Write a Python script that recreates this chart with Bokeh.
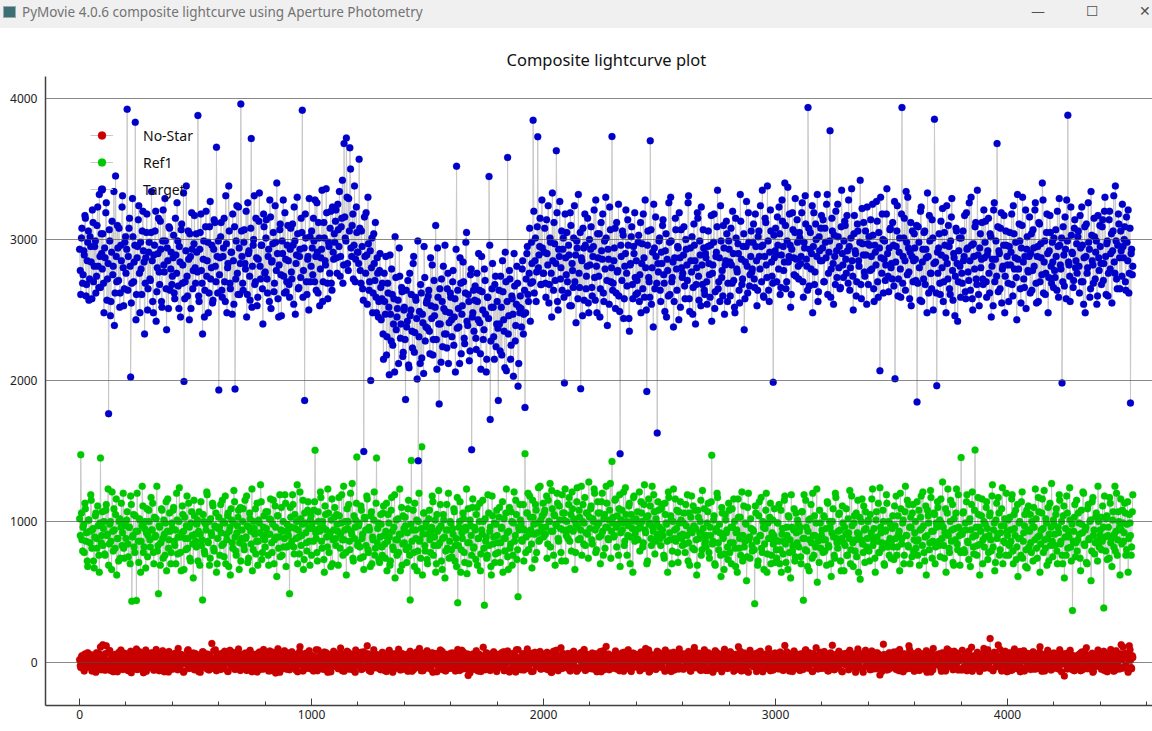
from bokeh.plotting import figure
from bokeh.models import (Range1d, Legend, LegendItem, SingleIntervalTicker,
                          ColumnDataSource, Div)
from bokeh.layouts import column
from bokeh.embed import file_html
from bokeh.resources import INLINE

WINDOW_TITLE = "PyMovie 4.0.6 composite lightcurve using Aperture Photometry"
PLOT_TITLE = "Composite lightcurve plot"
SERIES_NAMES = ["No-Star", "Ref1", "Target"]
SERIES_COLORS = ["#c80000", "#00c800", "#0000c8"]
FRAME_STEP = 5      # values read every 5th frame
OFFSET_B = 3        # second reading, frames 3, 8, 13, ...

# Target (blue), frames 0, 5, 10, ... 4540 (20 values per 100 frames)
target = [
    2930, 2610, 3080, 2750, 2890, 3150, 2680, 2980, 2570, 3020, 2840, 3210, 2700, 2950, 2620, 3100, 2810, 3320, 2660, 2900,
    3040, 2480, 2870, 3260, 2720, 1765, 2990, 2560, 3130, 2810, 2390, 3450, 2700, 2940, 3080, 2620, 2850, 3310, 2530, 2980,
    2760, 3924, 2880, 3150, 2024, 2690, 3020, 2840, 3831, 2610, 2950, 3240, 2480, 2790, 3060, 2920, 2330, 2870, 3180, 2650,
    2980, 2710, 3340, 2560, 2890, 3060, 2420, 2800, 3150, 2680, 2930, 2520, 3210, 2770, 2990, 2360, 2850, 3090, 2640, 2910,
    2740, 3030, 2580, 2890, 3260, 2670, 2950, 2450, 3110, 2820, 1993, 2700, 3380, 2600, 2860, 3040, 2510, 2930, 2780, 3170,
    2690, 2910, 3880, 2560, 3050, 2780, 2330, 2990, 2640, 3200, 2850, 2480, 3090, 2720, 2960, 2570, 3140, 2810, 3655, 2620,
    1932, 2870, 3120, 2590, 2940, 2700, 3310, 2480, 2830, 3060, 2650, 2910, 3180, 2540, 1939, 2990, 2760, 3230, 2610, 3961,
    2880, 2640, 3070, 2790, 2450, 3260, 2920, 2570, 3716, 2810, 3000, 2680, 3150, 2530, 2860, 3330, 2720, 2960, 2400, 3090,
    2770, 3140, 2620, 2930, 3280, 2510, 2850, 3050, 2690, 2980, 3400, 2580, 2820, 3110, 2460, 2900, 2740, 3190, 2630, 2960,
    2850, 2590, 3080, 2720, 2960, 3230, 2470, 2890, 3040, 2660, 2930, 3150, 3917, 2780, 1858, 3010, 2610, 2880, 3290, 2700,
    3060, 2750, 2990, 3280, 2640, 2910, 3120, 2530, 2870, 3350, 2700, 3010, 2820, 3190, 2580, 2950, 3080, 2690, 3230, 2860,
    2980, 3210, 2760, 3070, 3340, 2880, 3150, 2690, 3680, 3010, 3720, 2830, 3290, 3650, 2940, 3100, 2720, 3380, 2860, 3050,
    2910, 3570, 2780, 3060, 2650, 1496, 2880, 3190, 2540, 2970, 2700, 2000, 3010, 2620, 2830, 3120, 2480, 2760, 2560, 2900,
    2430, 2690, 2150, 2560, 2880, 2310, 2620, 2040, 2470, 2790, 2250, 2580, 3020, 2360, 2510, 2120, 2740, 2400, 2630, 2200,
    2520, 1865, 2380, 2710, 2090, 2460, 2610, 2230, 2880, 2340, 2570, 2010, 1430, 2490, 2680, 2160, 2410, 2950, 2280, 2550,
    2370, 2640, 2190, 2530, 2820, 2290, 2460, 3100, 2080, 2590, 1834, 2400, 2720, 2240, 2510, 2960, 2330, 2650, 2120, 2480,
    2590, 2310, 2780, 2450, 2060, 3520, 2640, 2380, 2870, 2190, 2530, 2700, 2260, 2980, 2420, 2610, 2140, 2750, 1509, 2480,
    2350, 2670, 2220, 2560, 2900, 2410, 2080, 2630, 2290, 2790, 2470, 2150, 2590, 3447, 1724, 2520, 2830, 2310, 2680, 2240,
    2560, 1858, 2400, 2740, 2180, 2630, 2350, 2910, 2070, 3582, 2460, 2720, 2250, 2580, 2030, 2670, 2390, 2810, 1960, 2520,
    2600, 2380, 2850, 2470, 1809, 2720, 2950, 2560, 3080, 2690, 2830, 3846, 2620, 3010, 2770, 3729, 2890, 3150, 2680, 2940,
    2760, 3080, 2590, 2900, 3240, 2680, 2980, 2450, 2850, 3120, 2710, 3630, 2560, 2930, 3270, 2800, 2640, 3010, 1983, 2870,
    3050, 2620, 2890, 3190, 2530, 2780, 3010, 2700, 2410, 2940, 3320, 2660, 1941, 2850, 3080, 2570, 2960, 2740, 3150, 2480,
    2820, 3090, 2600, 2950, 2730, 3280, 2480, 2870, 3040, 2650, 2920, 3180, 2560, 2790, 3010, 2390, 2860, 3230, 2700, 3730,
    2690, 2940, 2510, 3120, 2780, 2600, 1480, 2880, 3060, 2440, 2810, 3210, 2670, 2960, 2350, 2830, 3090, 2580, 2900, 2730,
    2850, 2620, 3030, 2750, 2480, 2970, 3180, 2590, 2800, 1922, 3060, 2700, 3700, 2540, 2910, 3250, 2650, 2880, 1627, 2770,
    3010, 2560, 2830, 3140, 2690, 2920, 2450, 2780, 3260, 2610, 2990, 2730, 2380, 2870, 3070, 2640, 2940, 3190, 2520, 2800,
    2760, 3090, 2580, 2930, 2710, 3310, 2490, 2850, 3020, 2660, 2960, 2400, 2800, 3150, 2570, 2890, 3230, 2680, 2940, 2610,
    2870, 2540, 3060, 2750, 2960, 2420, 2820, 3180, 2630, 2910, 3350, 2700, 2560, 2990, 2780, 3100, 2470, 2850, 3040, 2690,
    2930, 2600, 2820, 3200, 2710, 2480, 3010, 2770, 2900, 2550, 3130, 2680, 2950, 2360, 2840, 3270, 2620, 2980, 2750, 3060,
    2790, 3110, 2660, 2950, 2530, 3020, 2880, 3240, 2700, 2960, 2590, 3150, 2820, 3380, 2640, 2910, 3060, 2740, 1988, 2870,
    3080, 2700, 2960, 3230, 2610, 2890, 3130, 2780, 3400, 2650, 2990, 2840, 3180, 2520, 2930, 3070, 2750, 3290, 2860, 2980,
    2720, 3010, 2880, 3260, 2590, 2940, 3110, 2810, 3936, 2670, 3050, 2900, 2480, 3190, 2770, 3000, 3320, 2630, 2920, 3080,
    2850, 3140, 2700, 2980, 3250, 2610, 2910, 3772, 2790, 3060, 2540, 2880, 3200, 2730, 3020, 2950, 2660, 3350, 2820, 2990,
    3100, 2760, 2920, 3280, 2640, 3010, 2850, 2500, 3170, 2900, 2700, 3060, 2810, 3420, 2580, 2970, 3120, 2740, 2890, 3230,
    2680, 2960, 3140, 2790, 3030, 2560, 2910, 3270, 2700, 3050, 2069, 2870, 3180, 2620, 2990, 2820, 3360, 2740, 2940, 3080,
    2830, 3120, 2670, 2012, 2950, 3240, 2720, 3010, 2590, 3936, 2880, 3150, 2640, 2980, 3300, 2770, 2910, 2530, 3060, 2850,
    2940, 2710, 1848, 3090, 2800, 3200, 2560, 2930, 3050, 2680, 2870, 3330, 2620, 2990, 2760, 3140, 2500, 3853, 2840, 1963,
    2760, 3040, 2610, 2890, 3220, 2700, 2960, 2480, 2830, 3100, 2650, 2990, 3290, 2570, 2870, 2740, 3060, 2420, 2920, 2810,
    3010, 2690, 2850, 3170, 2580, 2930, 2770, 3260, 2640, 2960, 2500, 2880, 3090, 2720, 3350, 2610, 2940, 2800, 3120, 2680,
    2870, 3130, 2590, 2920, 2760, 3040, 2450, 2860, 3210, 2700, 2990, 3680, 2630, 2900, 3080, 2550, 2810, 3170, 2740, 2960,
    2820, 2560, 3050, 2910, 2680, 3240, 2790, 2980, 2430, 2860, 3110, 2650, 2940, 3300, 2720, 2880, 2510, 3020, 2770, 3160,
    2900, 2640, 3070, 2810, 3260, 2550, 2950, 3120, 2700, 2870, 3400, 2620, 2990, 2760, 3180, 2480, 2920, 3050, 2690, 2840,
    3010, 2730, 2880, 3200, 2590, 2960, 2790, 1983, 3090, 2670, 2930, 3280, 3882, 2820, 2560, 3030, 2900, 2710, 3140, 2850,
    2760, 3060, 2620, 2940, 3230, 2700, 2870, 2480, 3110, 2800, 2980, 2590, 3340, 2850, 2690, 3020, 2910, 2540, 3170, 2780,
    2950, 2680, 3140, 2830, 3300, 2610, 2990, 2760, 3200, 2900, 2550, 3060, 2840, 3380, 2720, 2960, 3110, 2650, 2920, 3250,
    2870, 3090, 2640, 2980, 3210, 2760, 1840, 2930, 2810,
]

# Target (blue), second reading at frames 3, 8, 13, ... 4538
target_b = [
    2780, 3010, 2690, 2920, 3170, 2600, 2850, 3060, 2720, 2950, 2580, 3120, 2810, 2990, 2740, 3230, 2660, 2880, 3040, 2790,
    2690, 2940, 3190, 2570, 2830, 3070, 2460, 2910, 2750, 3340, 2620, 2880, 3100, 2710, 2520, 2960, 3230, 2800, 2650, 3020,
    2930, 2640, 3080, 2810, 2550, 3290, 2700, 2960, 2430, 2870, 3140, 2760, 2980, 2610, 3200, 2840, 2690, 3050, 2500, 2910,
    2720, 3050, 2850, 2480, 2960, 3200, 2630, 2900, 2770, 3130, 2560, 2990, 2820, 3290, 2650, 2940, 2510, 3080, 2790, 2680,
    2870, 2620, 3150, 2760, 2990, 2510, 2840, 3070, 2690, 3330, 2580, 2920, 2740, 3060, 2430, 2880, 3190, 2650, 2970, 2800,
    3040, 2770, 2600, 2930, 3180, 2690, 2860, 2450, 3090, 2740, 2980, 2620, 3270, 2800, 2550, 2930, 3120, 2700, 2880, 2990,
    2750, 3020, 2640, 2880, 3150, 2560, 2970, 2800, 3380, 2690, 2910, 2470, 2850, 3090, 2720, 3240, 2610, 2940, 2830, 3060,
    2690, 2980, 2830, 3200, 2610, 2900, 2740, 3080, 2520, 2960, 3310, 2700, 2870, 2590, 3130, 2810, 2960, 2650, 3180, 2760,
    3010, 2720, 2880, 2560, 3160, 2840, 2970, 2630, 3240, 2780, 2900, 2450, 3070, 2750, 2990, 3280, 2620, 2860, 2700, 3100,
    2680, 2930, 2770, 3110, 2540, 2990, 2830, 3300, 2650, 2880, 2730, 3050, 2590, 2940, 3180, 2700, 2860, 2500, 3020, 2810,
    2940, 3150, 2700, 2880, 3260, 2620, 3010, 2790, 2930, 2560, 3120, 2850, 3360, 2690, 2980, 2760, 3200, 2640, 2910, 3040,
    3130, 2870, 3250, 2950, 2740, 3090, 3420, 2820, 3160, 2990, 3300, 2780, 3060, 3500, 2880, 3180, 2960, 2700, 3230, 2910,
    2830, 3080, 2690, 2950, 2570, 3160, 2760, 2890, 3300, 2640, 2920, 2800, 2480, 3040, 2710, 2590, 2870, 2450, 2780, 2660,
    2580, 2330, 2760, 2470, 2180, 2690, 2520, 2890, 2280, 2610, 2400, 2060, 2730, 2450, 2570, 2940, 2300, 2660, 2170, 2500,
    2290, 2640, 2420, 2110, 2760, 2500, 2350, 2830, 2200, 2590, 2440, 2990, 2310, 2120, 2620, 2470, 2050, 2730, 2380, 2570,
    2600, 2350, 2870, 2440, 2180, 2710, 2520, 2290, 2940, 2400, 2650, 2130, 2560, 2810, 2330, 2490, 2230, 2760, 2410, 2620,
    2430, 2700, 2250, 2580, 2930, 2370, 2510, 2120, 2690, 2470, 2840, 2300, 2620, 3050, 2390, 2560, 2210, 2790, 2450, 2640,
    2570, 2300, 2760, 2430, 2640, 2190, 2880, 2500, 2360, 2710, 2060, 2590, 2440, 2960, 2280, 2650, 2520, 2150, 2740, 2400,
    2370, 2640, 2210, 2520, 2850, 2430, 2090, 2700, 2560, 2330, 2780, 2150, 2600, 2470, 2900, 2280, 2540, 2690, 2120, 2480,
    2510, 2790, 2330, 2640, 2480, 2900, 2610, 2760, 2420, 2980, 2700, 3200, 2850, 2560, 3090, 2800, 2950, 2680, 3280, 2760,
    2910, 2690, 3140, 2820, 2550, 3010, 2760, 3330, 2640, 2970, 2830, 3190, 2500, 2880, 2720, 3060, 2930, 2590, 3180, 2750,
    2700, 2960, 2530, 3100, 2830, 2660, 3240, 2890, 2990, 2580, 2760, 3050, 2870, 2460, 2940, 3180, 2650, 2810, 2550, 3000,
    2930, 2660, 2880, 3210, 2570, 2810, 3040, 2740, 2450, 3120, 2860, 2620, 2990, 3300, 2710, 2930, 2540, 3070, 2800, 2640,
    2850, 3080, 2620, 2770, 3250, 2490, 2960, 2710, 3030, 2580, 2900, 2760, 3140, 2440, 2820, 3020, 2680, 2950, 3190, 2610,
    2710, 2980, 2560, 3120, 2830, 2650, 2870, 3280, 2500, 2960, 2730, 2590, 3070, 2800, 2380, 2940, 3160, 2690, 2830, 2990,
    2640, 2910, 3100, 2750, 2490, 3040, 2860, 2600, 2980, 3300, 2700, 2840, 2560, 3150, 2790, 2950, 2430, 2870, 3070, 2730,
    2890, 2670, 3000, 2820, 3260, 2580, 2940, 2770, 2470, 3110, 2850, 2680, 3190, 2740, 2990, 2530, 2820, 3070, 2640, 2900,
    2700, 2950, 2830, 2590, 3170, 2760, 2980, 2510, 2880, 3090, 2650, 2870, 3240, 2730, 2600, 2940, 2820, 3130, 2560, 2990,
    2840, 3080, 2690, 2900, 2520, 3150, 2790, 2970, 2640, 3320, 2860, 2720, 3040, 2580, 2950, 2810, 3190, 2670, 2880, 2770,
    2980, 2720, 3180, 2850, 2640, 3060, 2790, 2950, 3350, 2600, 2880, 3120, 2730, 2990, 2560, 3210, 2840, 2690, 3030, 2920,
    2890, 3160, 2790, 3040, 2660, 3280, 2950, 2840, 3100, 2700, 3370, 2880, 2960, 2610, 3190, 2870, 3050, 2740, 3140, 2810,
    3050, 2830, 3190, 2700, 2980, 3310, 2860, 2640, 3080, 2930, 2790, 3240, 2950, 2680, 3110, 2880, 2560, 3020, 2850, 3170,
    2940, 2700, 3080, 2870, 3320, 2760, 2990, 2590, 3150, 2830, 3030, 2680, 2920, 3250, 2800, 2650, 3090, 2900, 2730, 3130,
    2860, 3170, 2690, 2950, 2800, 3360, 2740, 3040, 2920, 2600, 3110, 2850, 2980, 2680, 3220, 2890, 2770, 3060, 2540, 2970,
    3020, 2780, 2880, 3250, 2650, 2960, 2820, 3130, 2590, 2940, 3300, 2760, 3000, 2860, 2710, 3180, 2900, 2630, 3070, 2800,
    2720, 2960, 3270, 2840, 3060, 2600, 2910, 2790, 3180, 2690, 3010, 2850, 3340, 2750, 2940, 2580, 3120, 2880, 2700, 3040,
    2860, 3100, 2690, 2980, 2570, 3230, 2840, 2720, 3060, 2930, 2480, 2880, 3170, 2760, 2650, 3010, 2830, 3280, 2620, 2910,
    2940, 2690, 3130, 2800, 2560, 3050, 2870, 3240, 2720, 2950, 2610, 3160, 2780, 2900, 2460, 3080, 2830, 2700, 3010, 2590,
    2760, 3060, 2880, 2630, 3190, 2940, 2710, 2850, 3300, 2580, 2970, 2790, 3120, 2680, 2890, 2530, 3040, 2860, 2720, 3210,
    2980, 2700, 2890, 3150, 2620, 3020, 2810, 2530, 3260, 2860, 2740, 3090, 2920, 2650, 3190, 2790, 2960, 2480, 3060, 2880,
    2690, 2950, 2820, 3180, 2600, 3040, 2870, 2730, 3320, 2790, 2990, 2550, 3100, 2840, 2660, 3210, 2930, 2780, 2880, 2620,
    3040, 2780, 2940, 3210, 2690, 2880, 2560, 3110, 2970, 2750, 3280, 2840, 2610, 3050, 2900, 2730, 3170, 2810, 2980, 2660,
    2780, 3070, 2640, 2950, 3290, 2820, 3010, 2700, 2890, 3160, 2580, 2990, 2840, 2740, 3230, 2910, 2660, 3080, 2800, 2970,
    3020, 2810, 3170, 2700, 2960, 2540, 3090, 2880, 2760, 3260, 2930, 2650, 3030, 2820, 3150, 2720, 2990, 2600, 2870, 3100,
    2830, 3090, 2710, 3200, 2880, 2970, 2600, 3140, 2790, 3040, 2920, 3310, 2760, 2990, 2650, 3180, 2870, 3060, 2740, 2950,
    3000, 2700, 3160, 2850, 2620, 3080, 2900, 2750,
]

# Ref1 (green), frames 0, 5, 10, ...
ref1 = [
    1020, 1474, 870, 960, 780, 1090, 920, 680, 1010, 850, 1150, 940, 720, 890, 1060, 810, 970, 640, 1450, 900,
    830, 1000, 760, 1120, 910, 690, 980, 860, 1210, 790, 940, 1050, 620, 880, 1000, 740, 1130, 920, 810, 970,
    880, 1070, 750, 960, 1180, 435, 900, 820, 1040, 440, 930, 710, 1010, 860, 1250, 780, 950, 670, 1090, 900,
    1000, 820, 940, 1130, 700, 890, 1020, 790, 487, 960, 850, 1080, 740, 910, 990, 650, 1160, 870, 930, 780,
    950, 1100, 830, 700, 1010, 890, 1240, 780, 920, 1050, 660, 880, 970, 810, 1130, 740, 990, 900, 600, 1040,
    860, 980, 720, 1070, 910, 830, 443, 1000, 770, 940, 1190, 850, 690, 1020, 900, 1110, 790, 960, 640, 880,
    1030, 760, 920, 1150, 840, 990, 700, 870, 1060, 930, 620, 1010, 810, 1220, 890, 760, 970, 1080, 850, 720,
    940, 1090, 800, 880, 1180, 710, 960, 1020, 840, 650, 1000, 910, 770, 1130, 860, 990, 1260, 730, 900, 1040,
    820, 950, 1070, 690, 910, 1010, 780, 1150, 870, 960, 610, 1040, 890, 750, 1100, 930, 820, 1190, 680, 980,
    900, 487, 1030, 860, 1120, 770, 950, 1000, 700, 890, 1210, 830, 980, 660, 1060, 920, 790, 1140, 860, 1010,
    760, 950, 1080, 1506, 880, 720, 1000, 930, 1170, 810, 960, 640, 1050, 890, 1230, 780, 920, 1010, 700, 940,
    1100, 830, 980, 690, 1040, 910, 1190, 760, 870, 1000, 620, 950, 1120, 800, 930, 1270, 720, 880, 1010, 1457,
    850, 990, 740, 1080, 910, 660, 1020, 830, 1160, 780, 940, 1040, 700, 870, 1210, 810, 1450, 950, 730, 890,
    980, 760, 1110, 840, 930, 650, 1050, 890, 720, 1170, 820, 960, 600, 1010, 870, 780, 1230, 910, 690, 1040,
    850, 970, 710, 1090, 820, 443, 1433, 940, 780, 1130, 880, 650, 1000, 860, 740, 1530, 910, 1060, 790, 960,
    700, 1020, 870, 930, 1180, 760, 890, 640, 1050, 830, 950, 1120, 720, 880, 1010, 600, 940, 810, 1200, 860,
    990, 750, 910, 1070, 830, 680, 423, 960, 1140, 800, 880, 1020, 710, 940, 630, 1090, 850, 970, 760, 1160,
    820, 940, 1050, 690, 880, 1130, 770, 910, 1000, 406, 860, 740, 1190, 830, 960, 620, 1040, 890, 710, 980,
    900, 780, 1100, 850, 960, 640, 1020, 880, 1230, 750, 930, 810, 1070, 690, 990, 860, 1150, 730, 467, 940,
    1010, 870, 950, 720, 1481, 890, 1060, 800, 1180, 940, 670, 1030, 910, 1120, 780, 990, 860, 1250, 930, 1040,
    890, 1080, 960, 740, 1150, 1000, 820, 1220, 930, 1050, 690, 970, 1130, 860, 1010, 780, 1190, 940, 1060, 720,
    1000, 880, 1170, 950, 790, 1090, 1020, 660, 980, 1240, 870, 1030, 940, 760, 1120, 990, 830, 1060, 910, 1280,
    950, 1110, 840, 1000, 1200, 780, 970, 1060, 890, 700, 1140, 930, 1020, 810, 1250, 960, 870, 1080, 740, 1426,
    1030, 900, 1160, 820, 980, 1090, 680, 1010, 940, 1210, 860, 1050, 760, 970, 1130, 890, 1000, 640, 1180, 920,
    880, 1070, 950, 790, 1140, 1000, 850, 1260, 920, 700, 1040, 980, 1110, 830, 960, 1190, 770, 1020, 900, 1080,
    960, 830, 1120, 900, 740, 1050, 980, 640, 1170, 870, 1010, 790, 1230, 940, 860, 1080, 710, 990, 1140, 880,
    910, 1060, 780, 970, 1190, 850, 690, 1030, 920, 1110, 800, 950, 620, 1080, 880, 1000, 760, 1220, 900, 840,
    820, 990, 1130, 740, 900, 1470, 860, 1040, 690, 950, 1170, 800, 920, 610, 1060, 880, 770, 1010, 940, 730,
    1080, 850, 700, 960, 1160, 810, 920, 640, 1030, 880, 760, 1210, 900, 820, 990, 580, 1100, 870, 740, 950,
    790, 930, 417, 1060, 860, 720, 1140, 900, 810, 1000, 660, 950, 1200, 770, 880, 1030, 700, 920, 840, 1090,
    870, 740, 990, 1120, 800, 640, 950, 860, 1180, 710, 900, 1040, 780, 600, 960, 830, 1090, 750, 920, 1010,
    820, 960, 700, 1070, 441, 880, 1150, 790, 930, 650, 1020, 850, 1200, 760, 900, 990, 570, 870, 1080, 810,
    940, 780, 1030, 870, 690, 1130, 820, 960, 610, 1000, 890, 740, 1170, 850, 930, 1060, 720, 880, 990, 650,
    830, 1090, 760, 920, 1220, 800, 970, 680, 1040, 870, 750, 1150, 910, 590, 1000, 840, 1110, 710, 950, 880,
    1010, 720, 890, 1160, 830, 950, 640, 1070, 860, 780, 1240, 920, 810, 1000, 690, 940, 1130, 850, 760, 980,
    860, 1040, 730, 970, 1180, 820, 910, 650, 1090, 880, 1010, 760, 1250, 900, 830, 1120, 700, 960, 1060, 790,
    920, 810, 1140, 870, 690, 1030, 950, 1210, 780, 890, 620, 1080, 990, 850, 1170, 740, 930, 1050, 820, 960,
    1100, 860, 750, 990, 1280, 830, 920, 640, 1060, 900, 780, 1150, 940, 710, 1020, 870, 1230, 800, 960, 690,
    1453, 910, 1070, 780, 940, 1190, 850, 1000, 680, 1120, 890, 770, 1507, 960, 830, 1050, 620, 930, 1160, 870,
    820, 980, 1140, 730, 900, 1060, 790, 1260, 940, 650, 1010, 880, 1170, 760, 920, 1090, 700, 970, 850, 1200,
    900, 760, 1030, 860, 1190, 700, 950, 1080, 820, 610, 990, 880, 1140, 740, 920, 1050, 800, 670, 1110, 930,
    850, 1000, 720, 960, 1230, 810, 890, 1070, 640, 940, 1160, 780, 870, 1020, 690, 1100, 910, 830, 1270, 750,
    980, 830, 1090, 700, 920, 1150, 860, 760, 1040, 600, 950, 1180, 810, 890, 1010, 720, 368, 930, 1120, 850,
    790, 1060, 910, 650, 980, 1210, 840, 940, 710, 1090, 870, 1000, 580, 1140, 900, 770, 1030, 860, 1250, 820,
    940, 800, 1110, 387, 890, 1020, 730, 960, 1170, 850, 680, 1070, 910, 790, 1200, 870, 1000, 620, 940, 1080,
    860, 1130, 760, 980, 640, 1050, 900, 820, 1190,
]

# Ref1 (green), second reading at frames 3, 8, 13, ...
ref1_b = [
    900, 1060, 790, 980, 1130, 860, 720, 1010, 930, 1190, 810, 950, 670, 1040, 880, 1110, 760, 990, 850, 1070,
    950, 770, 1080, 900, 1230, 840, 1000, 660, 930, 1090, 810, 1160, 880, 720, 1020, 960, 830, 1200, 740, 1000,
    1010, 840, 960, 700, 1120, 890, 1050, 780, 930, 1200, 860, 1020, 640, 970, 1110, 820, 1000, 920, 750, 1080,
    870, 1170, 940, 780, 1030, 900, 1250, 830, 970, 690, 1090, 880, 1010, 760, 1140, 930, 810, 1060, 700, 990,
    1080, 860, 940, 1200, 770, 1000, 890, 650, 1110, 930, 1030, 800, 1180, 880, 960, 720, 1070, 840, 1150, 910,
    820, 1010, 930, 690, 1140, 870, 1050, 790, 980, 1210, 860, 1000, 740, 920, 1130, 810, 970, 1060, 700, 950,
    960, 1120, 830, 1000, 750, 1180, 910, 1040, 680, 960, 1090, 850, 990, 1140, 790, 920, 1030, 660, 1100, 880,
    1000, 830, 1150, 890, 970, 740, 1060, 930, 1230, 800, 950, 1090, 860, 690, 1010, 920, 1140, 780, 960, 870,
    1070, 910, 760, 1020, 1160, 850, 980, 700, 1110, 890, 1040, 810, 1190, 940, 760, 1000, 880, 1130, 820, 940,
    830, 1100, 960, 1190, 820, 1050, 880, 1260, 940, 770, 1020, 900, 1150, 730, 990, 850, 1080, 950, 690, 1040,
    990, 860, 1140, 920, 780, 1070, 950, 1210, 860, 1000, 730, 1110, 940, 820, 1060, 900, 680, 1160, 870, 1030,
    880, 1050, 930, 1170, 810, 990, 870, 1250, 940, 780, 1090, 1000, 860, 1200, 910, 740, 1040, 960, 1130, 830,
    970, 820, 1110, 880, 750, 1030, 940, 1180, 800, 960, 680, 1070, 890, 1010, 760, 1130, 850, 990, 710, 1050,
    820, 1060, 900, 740, 1130, 860, 990, 690, 1080, 930, 800, 1190, 870, 760, 1020, 910, 650, 1100, 840, 950,
    1030, 800, 920, 1150, 760, 980, 860, 1080, 680, 940, 1010, 790, 1200, 870, 950, 620, 1060, 830, 990, 730,
    910, 1080, 780, 960, 1140, 830, 1010, 700, 930, 1220, 850, 970, 660, 1050, 890, 790, 1120, 940, 740, 1000,
    800, 950, 1090, 720, 880, 1170, 830, 1000, 640, 920, 1060, 780, 960, 1230, 850, 700, 1010, 900, 1100, 810,
    960, 730, 1100, 880, 1000, 650, 940, 1150, 810, 1020, 890, 760, 1060, 930, 680, 1180, 840, 990, 770, 1080,
    850, 1030, 710, 950, 1140, 880, 790, 1060, 920, 660, 1100, 840, 1000, 760, 1210, 900, 1050, 800, 960, 1120,
    990, 860, 1120, 940, 780, 1060, 1200, 910, 1030, 840, 1150, 980, 730, 1080, 920, 1240, 870, 1010, 960, 1130,
    1060, 910, 1180, 840, 1000, 1270, 930, 1090, 760, 1040, 980, 1200, 880, 1110, 950, 720, 1060, 1010, 1230, 900,
    940, 1120, 860, 1050, 1210, 930, 1010, 780, 1140, 960, 1080, 880, 1250, 1000, 840, 1170, 920, 1060, 740, 1030,
    1090, 870, 1020, 1230, 940, 800, 1140, 990, 1060, 900, 1200, 760, 1050, 960, 1130, 880, 1010, 1270, 930, 990,
    890, 1150, 960, 1040, 760, 1190, 920, 1080, 990, 830, 1240, 1000, 900, 1110, 700, 1050, 950, 1170, 860, 1020,
    1000, 870, 1210, 960, 1060, 820, 1120, 940, 1030, 720, 1160, 990, 880, 1250, 930, 1070, 860, 990, 1140, 910,
    880, 1090, 940, 760, 1130, 990, 860, 1210, 920, 1040, 700, 1000, 880, 1160, 950, 780, 1070, 900, 1010, 830,
    990, 840, 1120, 900, 720, 1060, 940, 1180, 810, 970, 1080, 870, 690, 1030, 920, 1150, 800, 950, 1090, 860,
    900, 1070, 780, 960, 1140, 840, 1010, 700, 930, 1200, 850, 980, 760, 1100, 890, 660, 1050, 920, 820, 1130,
    780, 960, 1090, 850, 1000, 680, 940, 1160, 810, 1030, 900, 720, 1110, 860, 980, 750, 1200, 890, 1020, 830,
    940, 800, 1110, 870, 690, 1040, 900, 1170, 780, 960, 840, 1080, 640, 990, 880, 1130, 760, 1010, 900, 710,
    800, 990, 860, 700, 1080, 910, 770, 1150, 840, 960, 660, 1030, 870, 1190, 790, 940, 720, 1060, 850, 980,
    930, 750, 1070, 880, 1190, 800, 960, 680, 1010, 870, 1120, 740, 900, 1040, 820, 1230, 860, 710, 990, 900,
    870, 1040, 790, 950, 1140, 830, 1000, 700, 920, 1090, 760, 1200, 880, 810, 1050, 940, 650, 1110, 850, 960,
    910, 760, 1020, 880, 700, 1180, 850, 990, 790, 1060, 920, 640, 1030, 870, 1160, 780, 940, 1070, 820, 1000,
    790, 1050, 920, 1230, 860, 740, 1010, 890, 1130, 780, 960, 850, 1080, 700, 930, 1190, 820, 1000, 880, 740,
    950, 820, 1110, 880, 760, 1040, 930, 1200, 840, 990, 700, 1070, 900, 1150, 820, 960, 1030, 750, 1120, 870,
    1000, 860, 760, 1080, 940, 1180, 830, 970, 720, 1110, 900, 1040, 800, 1220, 930, 860, 1060, 700, 990, 1140,
    830, 1010, 1160, 880, 960, 740, 1090, 920, 1230, 810, 1000, 860, 1120, 690, 950, 1060, 840, 1190, 900, 780,
    930, 1060, 800, 990, 1140, 860, 730, 1020, 940, 1210, 820, 1080, 900, 760, 1170, 960, 840, 1040, 700, 1000,
    890, 1100, 950, 780, 1040, 870, 1180, 820, 990, 710, 1130, 910, 1060, 800, 970, 1240, 860, 1020, 760, 930,
    1010, 830, 940, 1160, 790, 1050, 900, 730, 1120, 880, 1000, 760, 1210, 860, 970, 680, 1080, 940, 820, 1050,
    780, 960, 1100, 870, 1020, 740, 1170, 900, 840, 1060, 950, 1220, 810, 990, 880, 720, 1130, 960, 860, 1010,
    910, 1050, 790, 960, 1190, 840, 1000, 700, 1110, 890, 760, 1060, 930, 1240, 820, 980, 860, 1030, 750, 1150,
    870, 990, 740, 1080, 920, 1200, 830, 960, 700, 1120, 880, 1010, 790, 1170, 940, 850, 1060, 720, 1000, 900,
    1030, 860, 960, 1180, 790, 1040, 900, 740, 1130, 880, 1010, 820, 1250, 930, 760, 1070, 960, 1160, 840, 990,
    920, 1060, 800, 1140, 880, 990, 760, 1070,
]

# No-Star (red), frames 0, 5, 10, ...
no_star = [
    20, -35, 48, 5, -60, 32, -12, 70, -28, 15, 55, -45, 8, 38, -70, 25, -5, 62, 110, -20,
    125, 40, -55, 118, 10, -30, 85, -8, 45, -65, 22, 58, -40, 3, 72, -25, 35, -50, 12, 65,
    -15, 42, -58, 28, 80, -38, 6, 52, -22, 95, -48, 18, 60, -10, 36, -72, 24, 88, -32, 14,
    46, -26, 70, -4, -55, 34, 92, -18, 10, 58, -44, 26, 2, -66, 50, 16, -36, 78, -12, 40,
    -48, 30, 64, -20, 8, 100, -40, 22, 54, -8, -62, 38, 12, 84, -30, 44, -16, 6, 68, -52,
    18, 56, -28, 42, -70, 4, 76, -14, 32, 60, -46, 20, 48, -6, 135, -34, 26, 90, -58, 10,
    36, -18, 62, 14, -42, 80, -4, 28, -64, 50, 8, -30, 72, 24, -50, 44, -10, 96, 2, -38,
    54, -26, 16, 68, -56, 30, -2, 86, -40, 20, 58, -14, 40, -68, 12, 74, -22, 34, -48, 64,
    -8, 46, 26, -60, 82, 6, -32, 52, 18, -74, 40, 98, -16, 28, 62, -44, 10, 48, -24, 70,
    22, -52, 38, 76, -10, 14, -36, 58, -66, 30, 112, -20, 44, 4, -46, 66, 16, -30, 84, -6,
    50, -40, 28, 8, 90, -58, 34, -14, 60, 20, -48, 74, -2, 42, -70, 26, 56, -18, 12, 80,
    -28, 64, 18, -44, 38, 102, -8, 24, -62, 52, 6, -34, 70, 30, -16, 46, -54, 14, 88, -24,
    40, -12, 58, -50, 22, 76, -38, 10, 118, -20, 48, -64, 32, 2, 66, -28, 20, 54, -42, 36,
    -6, 72, 26, -56, 44, 12, -30, 86, -14, 34, -70, 60, 16, -40, 50, 94, -22, 8, 64, -46,
    30, -18, 56, -62, 24, 80, -4, 42, -50, 18, 68, -32, 10, 100, -26, 46, -58, 28, 6, 74,
    -36, 52, 14, -48, 70, 32, -10, 62, -66, 22, 4, 88, -28, 40, -54, 16, 58, -20, 36, -42,
    66, -8, 30, 50, -60, 18, 92, -34, 44, 8, -46, 72, 26, -16, 56, -92, 38, 12, -30, 60,
    20, -50, 84, 6, -24, 46, -64, 34, 108, -12, 28, -40, 62, 14, -56, 48, 2, 76, -20, 36,
    -44, 58, 22, -32, 70, 10, -58, 40, -6, 82, 30, -48, 16, 64, -26, 52, -68, 24, 90, -14,
    38, -22, 60, -54, 12, 44, 96, -36, 26, -8, 66, -62, 34, 4, 56, -30, 18, 78, -46, 28,
    50, -16, 30, 72, -52, 8, 40, -70, 62, 20, -34, 86, 14, -24, 48, 104, -42, 26, 58, -10,
    -38, 64, 16, -60, 42, 6, 80, -28, 34, 54, -48, 22, 70, -14, 2, 92, -56, 30, 46, -20,
    24, -44, 68, 12, -30, 56, -66, 38, 10, 78, -18, 44, -52, 26, 114, -8, 60, -36, 18, 50,
    -26, 36, 82, -46, 20, 58, -12, 4, 70, -62, 32, 48, -22, 90, 14, -54, 40, 66, -34, 8,
    56, -20, 28, -58, 74, 16, -40, 46, 100, -10, 22, -68, 60, 34, -28, 52, 6, -48, 80, 18,
    -14, 44, -36, 64, 10, 88, -52, 30, -4, 58, -64, 26, 72, -22, 40, 12, -46, 96, 20, -30,
    62, -42, 24, 50, -18, 78, 2, -60, 36, 14, 106, -28, 48, -8, 66, -50, 30, 56, -12, 42,
    -56, 20, 70, -34, 8, 54, -70, 38, 84, -16, 28, 46, -44, 12, 62, -26, 94, 4, -38, 34,
    18, 76, -24, 40, -62, 26, 58, -6, 112, -48, 30, 8, -32, 68, 22, -58, 44, 14, 86, -20,
    48, -30, 10, 64, -50, 36, -14, 80, 24, -66, 52, 2, 40, -40, 98, 16, -24, 60, -54, 28,
    -10, 58, 32, -46, 74, 6, -28, 50, 120, -36, 18, 66, -60, 38, 12, -18, 82, -44, 26, 54,
    34, -56, 62, 20, -22, 46, 90, -38, 8, 70, -12, 28, -64, 52, 16, 104, -30, 42, -8, 60,
    -42, 26, 78, -16, 40, -58, 14, 66, -26, 122, 32, -48, 56, 4, -34, 72, 20, -62, 48, 10,
    64, -4, 36, -52, 86, 22, -20, 54, 8, -70, 44, 96, -14, 28, 60, -40, 18, 76, -28, 38,
    -18, 50, 12, 82, -46, 30, 66, -32, 20, 58, -88, 40, 6, 130, -24, 46, -54, 24, 70, -8,
    42, -36, 74, 16, -50, 56, 4, 92, -20, 34, -66, 60, 22, -10, 48, 118, -42, 28, 8, 64,
    -30, 46, 18, 78, -56, 26, -4, 62, 36, -48, 84, 10, -24, 52, -68, 30, 100, -14, 44, 20,
    58, -22, 34, -62, 70, 12, 48, -38, 96, 6, -28, 54, 24, -52, 80, 16, -8, 64, -44, 38,
    22, 86, -34, 44, 8, -58, 66, 30, -16, 108, -46, 40, 14, -26, 72, 50, -64, 28, 2, 58,
    -40, 60, 20, 90, -18, 170, 36, -50, 12, 68, -30, 44, 124, -12, 26, -60, 52, 8, 80, -24,
    46, -14, 70, 18, -54, 38, 96, -32, 24, 58, -4, -66, 42, 14, 84, -38, 30, 62, -20, 10,
    -50, 34, 76, -8, 48, 20, -42, 64, 112, -26, 16, 56, -60, 36, 4, 78, -18, 44, -34, 26,
    68, -28, 12, 52, -46, 90, 30, -12, 40, -95, 22, 62, 6, -36, 86, 18, -52, 46, 28, -6,
    -22, 54, 36, -58, 74, 8, -30, 60, 104, -44, 20, 42, -14, 66, -62, 32, 50, -24, 88, 14,
    40, -48, 24, 80, -16, 56, -66, 28, 10, 92, -36, 46, 18, -54, 70, 2, -28, 62, 126, -40,
    30, 64, -20, 48, -70, 118, 16, -44, 36,
]

# No-Star (red), second reading at frames 3, 8, 13, ...
no_star_b = [
    -22, 38, 4, -48, 60, 16, -34, 52, -8, 28, -60, 44, 12, -26, 70, -14, 34, 2, -52, 48,
    26, -40, 64, 10, -18, 80, -56, 30, 6, -30, 54, 20, -66, 42, -4, 88, -24, 14, 58, -46,
    8, 50, -28, 34, -72, 18, 62, -10, 40, -50, 24, 76, -36, 2, 46, -20, 66, -62, 30, 12,
    -34, 56, 22, -44, 10, 72, -16, 38, -58, 26, 4, 84, -30, 48, -12, 20, -68, 60, 14, -40,
    44, -6, 30, 68, -52, 16, -26, 56, 8, -70, 36, 22, -14, 90, -42, 28, 52, -18, 6, 64,
    -12, 34, -64, 50, 18, -36, 74, 2, 40, -24, 58, -54, 12, 30, -8, 82, -46, 24, 62, -20,
    28, -50, 10, 66, -30, 44, 14, -62, 36, 86, -18, 4, 52, -40, 22, 70, -8, 32, -56, 46,
    -4, 60, 24, -46, 38, -16, 78, 8, -66, 30, 50, -28, 16, 64, -52, 20, 6, -34, 92, 12,
    40, -24, 56, 2, -58, 26, 72, -12, 34, -42, 18, 60, -70, 44, 8, -20, 84, 28, -48, 14,
    -38, 20, 66, -28, 48, 4, -54, 36, 16, 76, -10, 30, -60, 52, 24, -32, 10, 68, -44, 38,
    18, -60, 42, 12, -22, 88, -36, 24, 56, -8, 34, -50, 70, 6, -28, 46, -66, 30, 14, 60,
    -16, 50, 26, -40, 8, 64, -58, 36, 18, -26, 80, 2, -48, 42, 28, -12, 58, -70, 22, 40,
    32, -8, 72, -44, 20, 48, -30, 12, 62, -56, 38, 6, -20, 90, -38, 26, 54, -14, 10, -52,
    54, -26, 14, 38, -64, 28, 80, -18, 46, 4, -42, 60, 22, -32, 16, 70, -54, 36, -6, 24,
    -46, 30, 58, -16, 42, 8, -62, 50, 20, -36, 74, 12, -24, 40, -58, 64, 2, 28, -40, 84,
    16, -34, 46, 26, -70, 36, 4, 62, -22, 54, -48, 18, 78, -10, 32, -60, 44, 8, -28, 56,
    -20, 68, -42, 14, 50, -8, 34, -56, 22, 86, -30, 40, 6, -46, 60, 24, -72, 38, 12, -18,
    42, -10, 24, -60, 58, 18, -36, 44, 2, -52, 70, 30, -16, 48, -40, 10, 66, -26, 36, -64,
    12, 52, -30, 40, -14, 76, -48, 26, 8, 58, -68, 34, 20, -22, 46, -56, 90, 4, -34, 28,
    -52, 26, 62, -18, 36, 6, -42, 54, 22, -64, 40, 14, 72, -28, 50, -8, 18, -46, 60, 32,
    24, -44, 10, 56, -26, 42, -70, 30, 80, -12, 20, 48, -58, 36, 4, -34, 64, 16, -20, 52,
    -6, 46, -54, 28, 68, -22, 12, 40, -62, 54, 26, -38, 8, 74, -16, 34, -50, 58, 20, -30,
    50, -18, 32, -48, 14, 62, -32, 24, 6, -66, 44, 84, -24, 38, -8, 56, -52, 18, 30, -40,
    20, 60, -36, 8, 46, -58, 34, 16, -24, 72, -44, 28, 52, -12, 40, -64, 22, 66, -28, 10,
    -30, 42, 18, -52, 64, 4, -40, 54, 26, -18, 88, -60, 36, 12, -26, 48, -48, 30, 6, 70,
    36, -14, 56, 22, -62, 40, 10, -36, 68, -4, 28, 50, -54, 16, -22, 62, 2, -44, 38, 24,
    -48, 30, 8, 64, -28, 48, -60, 20, 44, -12, 76, -38, 26, 6, 54, -56, 34, -16, 90, 12,
    28, -56, 40, 14, -20, 58, 30, -46, 18, 70, -32, 4, 46, -66, 36, 22, -10, 60, -42, 16,
    -10, 66, -34, 26, 52, -50, 12, 38, -22, 80, -60, 30, 8, 44, -28, 56, -70, 20, 34, -14,
    46, -30, 20, -64, 38, 72, -16, 30, 4, -48, 58, 16, -36, 50, 24, -58, 42, 10, -20, 68,
    14, -42, 62, 30, -18, 44, -56, 22, 6, 76, -34, 40, -12, 54, -64, 26, 36, -26, 58, 2,
    -26, 52, 10, -50, 34, 84, -22, 18, -40, 46, 28, -62, 64, 8, -16, 42, -46, 30, 72, -8,
    58, 4, -38, 44, 22, -60, 36, 68, -20, 12, -52, 50, 26, -30, 80, -14, 38, -66, 18, 46,
    -18, 34, 70, -42, 16, 54, -28, 4, 62, -54, 40, 14, -36, 48, 24, -70, 30, 86, -10, 20,
    30, -52, 24, 60, -8, 38, -44, 70, 12, -30, 48, -64, 20, 56, -18, 34, 6, -48, 64, 28,
    -36, 18, 50, -24, 76, 8, -58, 32, 44, -14, 60, 22, -46, 38, -4, 90, -32, 16, 52, -62,
    40, -20, 14, 66, -48, 28, 2, -36, 58, 24, -70, 46, 10, -26, 72, -52, 34, 20, -12, 50,
    6, 62, -44, 30, -16, 52, -60, 40, 18, 84, -28, 12, 56, -40, 26, -8, 66, -54, 36, 14,
    -54, 36, 22, -30, 60, 10, 80, -18, 42, -62, 28, 50, -24, 16, 64, -46, 4, 38, -36, 100,
    24, -12, 56, 14, -40, 46, 30, -58, 72, 8, -26, 40, 18, 92, -48, 26, 60, -20, 34, -66,
    -22, 48, -56, 32, 68, -14, 20, 54, -44, 12, 78, -34, 28, 44, -60, 16, 6, 64, -28, 40,
    34, -4, 60, -48, 22, 40, -30, 74, 10, -62, 50, 26, -18, 36, 86, -40, 18, -54, 30, 8,
    -40, 56, 16, -24, 44, 2, -66, 38, 62, -10, 28, -46, 70, 20, -32, 52, 12, -58, 42, 24,
    16, -34, 64, 28, -52, 36, 80, -16, 22, 48, -40, 6, 58, -70, 32, 14, -26, 46, 72, -12,
    -28, 44, 8, -56, 52, 24, -38, 66, 30, -20, 40, -62, 18, 84, -8, 34, -46, 56, 20, 110,
    38, -24, 62, -50, 20, 90, -36, 48,
]

FONT = "Noto Sans"
W = 1152
BAR_H = 28
MAIN_H = 731 - BAR_H
FRAME_LEFT = 45


def merge(readings):
    pts = []
    for offset, vals in readings:
        pts += [(offset + FRAME_STEP * i, v) for i, v in enumerate(vals)]
    pts.sort()
    return [f for f, _ in pts], [v for _, v in pts]


# ---------------- window title bar (HTML text) ----------------
bar_html = (
    '<div style="position:relative;width:%dpx;height:%dpx;background:#f0f0f0;'
    'font-family:\'Noto Sans\',sans-serif;overflow:hidden;">'
    '<span style="position:absolute;left:3px;top:6px;width:13px;height:12px;'
    'background:#3c6e78;border:1px solid #9aa;"></span>'
    '<span style="position:absolute;left:22px;top:2px;font-size:13.5px;line-height:20px;'
    'color:#737373;white-space:nowrap;">%s</span>'
    '<span style="position:absolute;left:1031px;top:1px;font-size:14px;line-height:20px;'
    'color:#505050;font-family:\'DejaVu Sans\';">&#8212;</span>'
    '<span style="position:absolute;left:1086px;top:1px;font-size:14px;line-height:20px;'
    'color:#505050;font-family:\'DejaVu Sans\';">&#9744;</span>'
    '<span style="position:absolute;left:1139px;top:1px;font-size:14px;line-height:20px;'
    'color:#505050;font-family:\'DejaVu Sans\';">&#10005;</span>'
    '</div>' % (W, BAR_H, WINDOW_TITLE)
)
bar = Div(text=bar_html, width=W, height=BAR_H, styles={"margin": "0", "padding": "0"})

# ---------------- main plot ----------------
p = figure(width=W, height=MAIN_H, toolbar_location=None, output_backend="svg",
           x_range=Range1d(-147, 4625), y_range=Range1d(-305, 4156),
           min_border_left=FRAME_LEFT, min_border_right=0, min_border_top=48, min_border_bottom=26,
           title=PLOT_TITLE)
p.background_fill_color = "white"
p.border_fill_color = "white"
p.outline_line_color = None
p.title.align = "left"
p.title.offset = 461
p.title.standoff = 12
p.title.text_font = FONT
p.title.text_font_size = "16.5px"
p.title.text_font_style = "normal"
p.title.text_color = "#111111"

p.xaxis.ticker = SingleIntervalTicker(interval=1000, num_minor_ticks=5)
p.yaxis.ticker = SingleIntervalTicker(interval=1000, num_minor_ticks=0)
for ax in (p.xaxis, p.yaxis):
    ax.axis_line_color = "#404040"
    ax.axis_line_width = 1.5
    ax.major_tick_line_color = "#404040"
    ax.minor_tick_line_color = "#404040"
    ax.major_label_text_font = FONT
    ax.major_label_text_font_size = "12px"
    ax.major_label_text_color = "#222222"
p.xaxis.major_tick_in = 7
p.xaxis.major_tick_out = 0
p.xaxis.minor_tick_in = 4
p.xaxis.minor_tick_out = 0
p.xaxis.major_label_standoff = 4
p.yaxis.major_tick_in = 0
p.yaxis.major_tick_out = 0
p.yaxis.minor_tick_in = 0
p.yaxis.minor_tick_out = 0
p.yaxis.major_label_standoff = 8

p.xgrid.visible = False
p.ygrid.ticker = SingleIntervalTicker(interval=1000, num_minor_ticks=0)
p.ygrid.grid_line_color = "#4a4a4a"
p.ygrid.grid_line_alpha = 0.65
p.ygrid.grid_line_width = 1
p.ygrid.level = "overlay"

series = [
    merge([(0, no_star), (OFFSET_B, no_star_b)]),
    merge([(0, ref1), (OFFSET_B, ref1_b)]),
    merge([(0, target), (OFFSET_B, target_b)]),
]

items = []
for name, (frames, vals), col in zip(SERIES_NAMES, series, SERIES_COLORS):
    src = ColumnDataSource(dict(frame=frames, value=vals))
    ln = p.line("frame", "value", source=src, line_color="#c8c8c8", line_width=1)
    sc = p.scatter("frame", "value", source=src, size=7, fill_color=col, line_color=col,
                   line_width=0.3)
    items.append(LegendItem(label=name, renderers=[ln, sc]))

legend = Legend(items=items, location=(45, 506), orientation="vertical",
                background_fill_alpha=0, border_line_color=None,
                padding=0, margin=0, spacing=7, label_height=20, glyph_height=20,
                glyph_width=23, label_standoff=30,
                label_text_font=FONT, label_text_font_size="14px", label_text_color="#111111")
p.add_layout(legend)

layout = column(bar, p)
open("out.html", "w").write(file_html(layout, INLINE))
